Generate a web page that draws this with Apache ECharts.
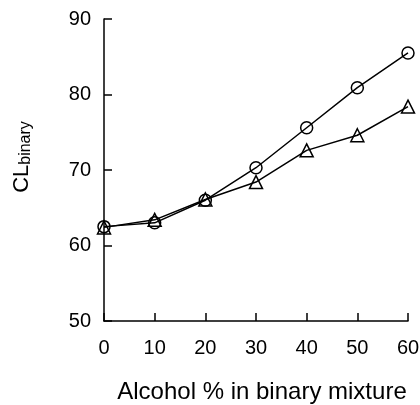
<!DOCTYPE html>
<html><head><meta charset="utf-8">
<script src="https://cdn.jsdelivr.net/npm/echarts@6/dist/echarts.min.js"></script>
<style>html,body{margin:0;padding:0;background:#fff}#c{width:420px;height:405px}</style>
</head><body><div id="c"></div>
<script>
const xValues = [0, 10, 20, 30, 40, 50, 60];
const circleSeries = [62.5, 63.0, 66.0, 70.3, 75.6, 80.9, 85.5];
const triangleSeries = [62.4, 63.4, 66.1, 68.4, 72.6, 74.6, 78.4];
const yTicks = [50, 60, 70, 80, 90];
const xTicks = [0, 10, 20, 30, 40, 50, 60];

const font = '"Liberation Sans", Arial, sans-serif';
const chart = echarts.init(document.getElementById('c'), null, {renderer: 'canvas'});
const pairs = arr => xValues.map((x, i) => [x, arr[i]]);
const common = {
  type: 'line', symbolSize: 12, showSymbol: true,
  lineStyle: {color: '#000', width: 1.5},
  itemStyle: {color: 'rgba(255,255,255,0)', borderColor: '#000', borderWidth: 1.5},
  emphasis: {disabled: true},
  animation: false, z: 3
};
chart.setOption({
  backgroundColor: '#fff',
  grid: {left: 104, right: 12, top: 19, bottom: 84, containLabel: false, outerBoundsMode: 'none'},
  xAxis: {
    type: 'value', min: xTicks[0], max: xTicks[xTicks.length-1], interval: 10,
    name: 'Alcohol % in binary mixture', nameLocation: 'middle', nameGap: 59,
    nameTextStyle: {fontFamily: font, fontSize: 24, color: '#000', padding: [0,0,0,12]},
    axisLine: {lineStyle: {color: '#000', width: 1.5}},
    axisTick: {inside: true, length: 8, lineStyle: {color: '#000', width: 1.5}},
    axisLabel: {fontFamily: font, fontSize: 20, color: '#000', margin: 17},
    splitLine: {show: false}
  },
  yAxis: {
    type: 'value', min: yTicks[0], max: yTicks[yTicks.length-1], interval: 10,
    name: '{a|CL}{b|binary}', nameLocation: 'middle', nameGap: 70, nameRotate: 90,
    nameTextStyle: {
      padding: [0,0,0,26],
      rich: {
        a: {fontFamily: font, fontSize: 22, color: '#000'},
        b: {fontFamily: font, fontSize: 16, color: '#000', verticalAlign: 'bottom', padding: [9,0,0,0]}
      }
    },
    axisLine: {show: true, lineStyle: {color: '#000', width: 1.5}},
    axisTick: {show: true, inside: true, length: 8, lineStyle: {color: '#000', width: 1.5}},
    axisLabel: {fontFamily: font, fontSize: 20, color: '#000', margin: 13},
    splitLine: {show: false}
  },
  series: [
    Object.assign({}, common, {name: 'circle', symbol: 'circle', data: pairs(circleSeries)}),
    Object.assign({}, common, {name: 'triangle', symbol: 'triangle', symbolSize: 13, data: pairs(triangleSeries)})
  ]
});
</script></body></html>
